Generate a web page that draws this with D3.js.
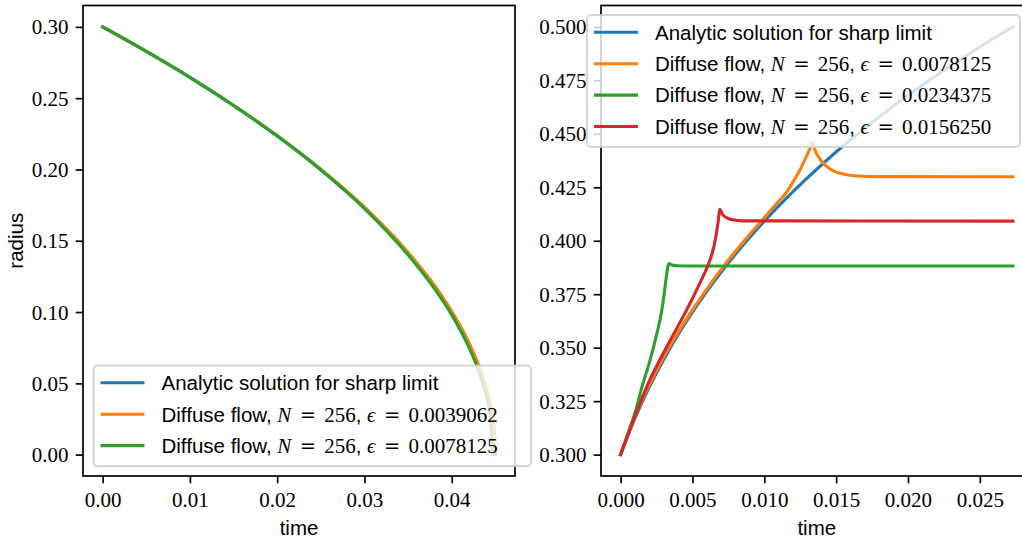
<!DOCTYPE html>
<html>
<head>
<meta charset="utf-8">
<script src="https://cdn.jsdelivr.net/npm/d3@7"></script>
<style>
  html, body { margin: 0; padding: 0; background: #ffffff; }
  svg { display: block; }
</style>
</head>
<body>
<svg id="chart" width="1022" height="541"></svg>
<script>
// ---------- Shrinking circle (left panel) ----------
const shrinkSharpTime   = [0, 0.005, 0.01, 0.015, 0.02, 0.025, 0.03, 0.035, 0.038, 0.04, 0.042, 0.043, 0.044, 0.0445, 0.0448, 0.045];
const shrinkSharpRadius = [0.3, 0.2828, 0.2646, 0.2449, 0.2236, 0.2, 0.1732, 0.1414, 0.1183, 0.1, 0.0775, 0.0632, 0.0447, 0.0316, 0.02, 0.0];

const shrinkFineTime    = [0, 0.005, 0.01, 0.015, 0.02, 0.025, 0.03, 0.035, 0.038, 0.04, 0.042, 0.043, 0.044, 0.0445, 0.0449, 0.04502];
const shrinkFineRadius  = [0.3, 0.2829, 0.2647, 0.2450, 0.2237, 0.2002, 0.1735, 0.1418, 0.1188, 0.1005, 0.0781, 0.0640, 0.0458, 0.0332, 0.0173, 0.004];

const shrinkCoarseTime   = [0, 0.005, 0.01, 0.015, 0.02, 0.025, 0.03, 0.035, 0.038, 0.04, 0.042, 0.043, 0.044, 0.0444, 0.0447];
const shrinkCoarseRadius = [0.3, 0.2828, 0.2646, 0.2448, 0.2234, 0.1996, 0.1726, 0.1400, 0.1166, 0.0980, 0.0748, 0.0600, 0.0400, 0.0275, 0.0];

// ---------- Growing circle (right panel) ----------
const growSharpTime   = [0, 0.001, 0.002, 0.003, 0.004, 0.005, 0.006, 0.007, 0.008, 0.009, 0.010, 0.012, 0.014, 0.016, 0.018, 0.020, 0.022, 0.024, 0.026, 0.0273];
const growSharpRadius = [0.3, 0.3170, 0.3316, 0.3445, 0.3561, 0.3666, 0.3763, 0.3854, 0.3938, 0.4017, 0.4092, 0.4230, 0.4356, 0.4472, 0.4579, 0.4680, 0.4774, 0.4863, 0.4948, 0.5000];

const growEps1Time   = [0, 0.001, 0.002, 0.003, 0.004, 0.005, 0.006, 0.007, 0.008, 0.009, 0.010, 0.011, 0.0115, 0.012, 0.0125, 0.0129, 0.0132, 0.01335, 0.01355, 0.0138, 0.0142, 0.0148, 0.0155, 0.0165, 0.018, 0.0273];
const growEps1Radius = [0.3, 0.3180, 0.3327, 0.3456, 0.3572, 0.3677, 0.3774, 0.3866, 0.3951, 0.4031, 0.4107, 0.4185, 0.4222, 0.4275, 0.4333, 0.4390, 0.4435, 0.4462, 0.4420, 0.4390, 0.4356, 0.4327, 0.4312, 0.4303, 0.4300, 0.4299];

const growEps3Time   = [0, 0.0005, 0.001, 0.0015, 0.002, 0.0025, 0.0028, 0.003, 0.0032, 0.00334, 0.0036, 0.004, 0.005, 0.0273];
const growEps3Radius = [0.3, 0.3098, 0.3195, 0.3320, 0.3430, 0.3560, 0.3650, 0.3735, 0.3840, 0.3893, 0.3886, 0.3883, 0.3882, 0.3882];

const growEps2Time   = [0, 0.001, 0.002, 0.003, 0.004, 0.0045, 0.005, 0.0055, 0.006, 0.0063, 0.0065, 0.0067, 0.0068, 0.00689, 0.0071, 0.0074, 0.0078, 0.0085, 0.0273];
const growEps2Radius = [0.3, 0.3180, 0.3345, 0.3478, 0.3602, 0.3664, 0.3730, 0.3800, 0.3872, 0.3925, 0.3975, 0.4050, 0.4095, 0.4147, 0.4122, 0.4107, 0.4098, 0.4093, 0.4092];

// ---------- Ticks and labels ----------
const leftXTicks  = [0, 0.01, 0.02, 0.03, 0.04];
const leftYTicks  = [0, 0.05, 0.10, 0.15, 0.20, 0.25, 0.30];
const rightXTicks = [0, 0.005, 0.010, 0.015, 0.020, 0.025];
const rightYTicks = [0.300, 0.325, 0.350, 0.375, 0.400, 0.425, 0.450, 0.475, 0.500];

const sharpLabel = "Analytic solution for sharp limit";
const leftEps  = ["0.0039062", "0.0078125"];
const rightEps = ["0.0078125", "0.0234375", "0.0156250"];

const colors = ["#1f77b4", "#ff7f0e", "#2ca02c", "#d62728"];

// ---------- Style ----------
const SANS = "'Liberation Sans', Arial, sans-serif";
const SERIF = "'Liberation Serif', 'Times New Roman', serif";
const REL_FONT = "'DejaVu Serif', serif";   // wider "=" sign
const SANS_SIZE = 20.5;
const SERIF_SIZE = 21;
const LINE_W = 3.1;
const SPINE_W = 1.7;
const TICK_LEN = 7.3;
const TICK_PAD = 7.3;
const REL_BEFORE = 8.3;   // space before "="
const REL_AFTER = 8.2;    // space after "="

const svg = d3.select("#chart");

function zipSeries(ts, rs) { return ts.map((t, i) => [t, rs[i]]); }

function drawPanel(cfg) {
  const x = d3.scaleLinear().domain(cfg.xDomain).range([cfg.left, cfg.right]);
  const y = d3.scaleLinear().domain(cfg.yDomain).range([cfg.bottom, cfg.top]);
  const g = svg.append("g");

  const clipId = "clip-" + cfg.name;
  g.append("clipPath").attr("id", clipId)
    .append("rect").attr("x", cfg.left).attr("y", cfg.top)
    .attr("width", cfg.right - cfg.left).attr("height", cfg.bottom - cfg.top);

  const line = d3.line().x(d => x(d[0])).y(d => y(d[1])).curve(d3.curveMonotoneX);
  const plot = g.append("g").attr("clip-path", `url(#${clipId})`);
  cfg.series.forEach((s, i) => {
    plot.append("path")
      .datum(zipSeries(s.t, s.r))
      .attr("d", line)
      .attr("fill", "none")
      .attr("stroke", colors[i])
      .attr("stroke-width", LINE_W)
      .attr("stroke-linejoin", "round")
      .attr("stroke-linecap", "square");
  });

  // x axis
  const xAxis = d3.axisBottom(x).tickValues(cfg.xTicks).tickFormat(d3.format(cfg.xFmt))
    .tickSize(TICK_LEN).tickPadding(TICK_PAD);
  const gx = g.append("g").attr("transform", `translate(0,${cfg.bottom})`).call(xAxis);
  gx.select(".domain").remove();
  gx.selectAll(".tick line").attr("stroke", "#000").attr("stroke-width", SPINE_W);
  gx.selectAll(".tick text")
    .attr("dy", null).attr("y", TICK_LEN + TICK_PAD + 16)
    .attr("fill", "#000")
    .style("font-family", SERIF).style("font-size", SERIF_SIZE + "px");

  // y axis
  const yAxis = d3.axisLeft(y).tickValues(cfg.yTicks).tickFormat(d3.format(cfg.yFmt))
    .tickSize(TICK_LEN).tickPadding(TICK_PAD);
  const gy = g.append("g").attr("transform", `translate(${cfg.left},0)`).call(yAxis);
  gy.select(".domain").remove();
  gy.selectAll(".tick line").attr("stroke", "#000").attr("stroke-width", SPINE_W);
  gy.selectAll(".tick text")
    .attr("dy", null).attr("y", 7.0)
    .attr("fill", "#000")
    .style("font-family", SERIF).style("font-size", SERIF_SIZE + "px");

  // spines
  g.append("rect")
    .attr("x", cfg.left).attr("y", cfg.top)
    .attr("width", cfg.right - cfg.left).attr("height", cfg.bottom - cfg.top)
    .attr("fill", "none").attr("stroke", "#000").attr("stroke-width", SPINE_W);

  // axis labels
  g.append("text")
    .attr("x", (cfg.left + cfg.right) / 2).attr("y", 535)
    .attr("text-anchor", "middle")
    .style("font-family", SANS).style("font-size", SANS_SIZE + "px")
    .text("time");
  if (cfg.yLabel) {
    g.append("text")
      .attr("transform", `translate(23,${(cfg.top + cfg.bottom) / 2}) rotate(-90)`)
      .attr("text-anchor", "middle")
      .style("font-family", SANS).style("font-size", SANS_SIZE + "px")
      .text(cfg.yLabel);
  }
}

// legend label: sans prefix, math in serif
function addLabel(text, entry) {
  if (entry.kind === "sharp") {
    text.append("tspan").style("font-family", SANS).style("font-size", SANS_SIZE + "px").text(sharpLabel);
    return;
  }
  const sans = (s) => text.append("tspan").style("font-family", SANS).style("font-size", SANS_SIZE + "px").text(s);
  const serif = (s, italic, dx) => {
    const t = text.append("tspan").style("font-family", SERIF).style("font-size", SERIF_SIZE + "px").text(s);
    if (italic) t.style("font-style", "italic");
    if (dx) t.attr("dx", dx);
    return t;
  };
  const rel = () => text.append("tspan").attr("dx", REL_BEFORE)
    .style("font-family", REL_FONT).style("font-size", "19.5px").text("=");
  sans("Diffuse flow, ");
  serif("N", true);
  rel();
  serif("256", false, REL_AFTER);
  sans(", ");
  serif("\u03F5", true);
  rel();
  serif(entry.eps, false, REL_AFTER);
}

function drawLegend(lx, ly, w, entries) {
  const rowH = 31.4;
  const h = 21 * 0.4 * 2 + rowH * (entries.length - 1) + 21 * 1.0;
  const g = svg.append("g");
  g.append("rect")
    .attr("x", lx).attr("y", ly).attr("width", w).attr("height", h)
    .attr("rx", 4.2).attr("ry", 4.2)
    .attr("fill", "#ffffff").attr("fill-opacity", 0.8)
    .attr("stroke", "#cccccc").attr("stroke-opacity", 0.8).attr("stroke-width", 2.1);
  entries.forEach((e, i) => {
    const cy = ly + 17.3 + i * rowH;
    g.append("line")
      .attr("x1", lx + 7).attr("x2", lx + 51)
      .attr("y1", cy).attr("y2", cy)
      .attr("stroke", e.color).attr("stroke-width", LINE_W).attr("stroke-linecap", "butt");
    const t = g.append("text").attr("x", lx + 68).attr("y", cy + 7.3).attr("fill", "#000");
    addLabel(t, e);
  });
}

drawPanel({
  name: "shrink",
  left: 83, right: 515, top: 5.5, bottom: 476,
  xDomain: [-0.00225, 0.04725], yDomain: [-0.015, 0.315],
  xTicks: leftXTicks, yTicks: leftYTicks, xFmt: ".2f", yFmt: ".2f",
  yLabel: "radius",
  series: [
    { t: shrinkSharpTime, r: shrinkSharpRadius },
    { t: shrinkFineTime, r: shrinkFineRadius },
    { t: shrinkCoarseTime, r: shrinkCoarseRadius }
  ]
});

drawPanel({
  name: "grow",
  left: 601, right: 1032.5, top: 5.5, bottom: 476,
  xDomain: [-0.001365, 0.028665], yDomain: [0.29, 0.51],
  xTicks: rightXTicks, yTicks: rightYTicks, xFmt: ".3f", yFmt: ".3f",
  yLabel: null,
  series: [
    { t: growSharpTime, r: growSharpRadius },
    { t: growEps1Time, r: growEps1Radius },
    { t: growEps3Time, r: growEps3Radius },
    { t: growEps2Time, r: growEps2Radius }
  ]
});

drawLegend(93.5, 365.5, 437.5, [
  { kind: "sharp", color: colors[0] },
  { kind: "diffuse", eps: leftEps[0], color: colors[1] },
  { kind: "diffuse", eps: leftEps[1], color: colors[2] }
]);

drawLegend(587, 15, 433, [
  { kind: "sharp", color: colors[0] },
  { kind: "diffuse", eps: rightEps[0], color: colors[1] },
  { kind: "diffuse", eps: rightEps[1], color: colors[2] },
  { kind: "diffuse", eps: rightEps[2], color: colors[3] }
]);
</script>
</body>
</html>
